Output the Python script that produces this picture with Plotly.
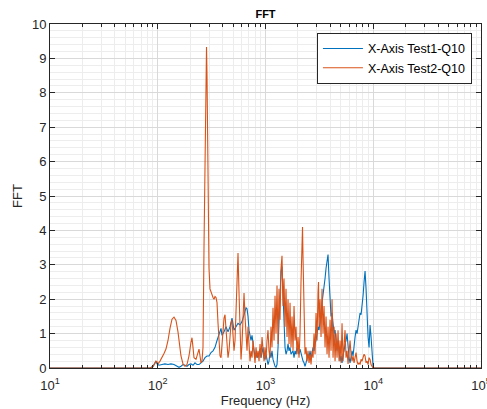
import plotly.graph_objects as go

# Frequency axis (Hz) and FFT magnitudes for the two X-axis test runs
freq_test1 = [10, 84.7, 90.3, 94.3, 96.3, 98.4, 102.7, 109.5, 116.7, 124.5, 132.7, 141.5, 150.9, 157.5,
              164.3, 171.5, 179, 186.8, 195, 203.5, 212.4, 221.7, 231.4, 241.5, 252, 263, 274.5, 286.5,
              299, 312.1, 325.8, 340, 354.8, 370.3, 386.5, 394.9, 412.1, 430.1, 448.9, 468.5, 488.9,
              510.3, 532.6, 555.8, 580.1, 605.4, 631.9, 659.5, 673.7, 688.3, 703.2, 718.4, 733.9, 749.8,
              766, 782.5, 799.4, 816.7, 834.4, 852.4, 870.8, 889.6, 908.8, 928.5, 948.5, 969, 989.9,
              1011, 1033, 1055, 1078, 1101, 1125, 1149, 1174, 1200, 1226, 1252, 1279, 1307, 1335, 1364,
              1393, 1423, 1454, 1485, 1518, 1550, 1584, 1618, 1653, 1689, 1725, 1763, 1801, 1840, 1879,
              1920, 1961, 2004, 2047, 2091, 2136, 2183, 2230, 2278, 2327, 2377, 2429, 2481, 2535, 2590,
              2646, 2703, 2761, 2821, 2882, 2944, 3008, 3073, 3139, 3207, 3276, 3347, 3419, 3493, 3569,
              3646, 3725, 3805, 3888, 3972, 4057, 4145, 4235, 4326, 4420, 4515, 4613, 4712, 4814, 4918,
              5025, 5133, 5244, 5358, 5473, 5592, 5713, 5836, 5962, 6091, 6223, 6357, 6495, 6635, 6778,
              6925, 7075, 7227, 7384, 7543, 7706, 7873, 8043, 8217, 8394, 8576, 8761, 8950, 9144, 9341,
              9543, 9749, 9960, 10100, 100000]
fft_test1 = [0, 0, 0.05, 0.18, 0.2, 0.12, 0.08, 0.1, 0.12, 0.1, 0.12, 0.1, 0.05, 0.02,
             0.05, 0.1, 0.08, 0.05, 0.1, 0.12, 0.08, 0.15, 0.1, 0.1, 0.15, 0.2, 0.3, 0.35,
             0.35, 0.45, 0.5, 0.6, 0.8, 1.0, 1.15, 0.95, 1.05, 1.2, 1.05, 1.2, 1.45,
             1.1, 1.2, 1.3, 1.25, 1.35, 1.55, 1.75, 1.72, 1.5, 1.1, 0.95, 0.8, 0.95,
             0.7, 0.4, 0.3, 0.45, 0.3, 0.35, 0.5, 0.55, 0.3, 0.45, 0.6, 0.3, 0.25,
             0.4, 0.2, 0.1, 0.2, 0.45, 0.3, 0.5, 0.25, 0.1, 0.05, 0.02, 0.1, 0.6, 1.2, 2.0,
             2.8, 2.95, 2.0, 1.2, 0.6, 0.4, 0.5, 0.7, 0.5, 0.6, 0.4, 0.45, 0.5, 0.3, 0.5,
             0.4, 0.6, 0.5, 0.4, 0.55, 0.4, 0.3, 0.2, 0.15, 0.05, 0.15, 0.3, 0.4, 0.3, 0.5,
             0.3, 0.4, 0.6, 0.5, 0.7, 0.8, 1.0, 1.2, 1.1, 1.5, 1.6, 1.9, 2.1, 2.4, 2.6,
             2.9, 3.1, 3.3, 2.6, 1.8, 1.5, 1.6, 1.2, 1.0, 1.1, 0.7, 0.5, 0.8, 0.4, 0.2,
             0.35, 0.15, 0.4, 0.5, 0.7, 0.8, 1.0, 0.6, 0.3, 0.15, 0.3, 0.5, 0.35, 0.7, 0.9,
             1.1, 1.0, 1.2, 1.4, 1.6, 1.55, 1.8, 2.1, 2.5, 2.82, 2.3, 1.5, 0.9, 0.6, 1.25,
             0.9, 0.4, 0.05, 0, 0]

freq_test2 = [10, 84.7, 90, 94.3, 96.3, 98.4, 100.5, 104.9, 109.5, 114.3, 119.2, 124.5, 129.9, 135.6,
              141.5, 147.7, 154.1, 160.9, 164.3, 171.5, 179, 186.8, 195, 203.5, 207.9, 212.4, 217,
              226.5, 236.4, 241.5, 246.7, 252, 257.5, 263, 268.7, 274.5, 280.5, 283.5, 286.5, 292.7,
              299, 305.5, 312.1, 318.9, 325.8, 332.8, 340, 347.3, 354.8, 362.5, 370.3, 378.3, 386.5,
              394.9, 403.4, 412.1, 421, 430.1, 439.4, 448.9, 458.6, 468.5, 478.6, 488.9, 499.5, 510.3,
              521.3, 532.6, 544.1, 555.8, 567.8, 580.1, 592.6, 605.4, 618.5, 631.9, 645.5, 659.5, 673.7,
              688.3, 703.2, 718.4, 733.9, 749.8, 766, 782.5, 799.4, 816.7, 834.4, 852.4, 870.8, 889.6,
              908.8, 928.5, 948.5, 969, 989.9, 1011, 1033, 1055, 1078, 1101, 1125, 1149, 1174, 1200,
              1226, 1252, 1279, 1307, 1335, 1364, 1393, 1423, 1454, 1485, 1518, 1550, 1584, 1618, 1653,
              1689, 1725, 1763, 1801, 1840, 1879, 1920, 1961, 2004, 2047, 2091, 2136, 2183, 2206, 2230,
              2278, 2327, 2377, 2429, 2481, 2535, 2590, 2646, 2703, 2761, 2821, 2882, 2944, 3008, 3073,
              3106, 3139, 3207, 3276, 3347, 3419, 3493, 3569, 3646, 3725, 3805, 3888, 3972, 4057, 4145,
              4235, 4326, 4420, 4515, 4613, 4712, 4814, 4918, 5025, 5133, 5244, 5358, 5473, 5592, 5713,
              5836, 5962, 6091, 6223, 6357, 6495, 6635, 6778, 6925, 7075, 7227, 7384, 7543, 7706, 7873,
              8043, 8217, 8394, 8576, 8761, 8950, 9144, 9341, 9543, 9749, 9960, 100000]
fft_test2 = [0, 0, 0.03, 0.15, 0.2, 0.18, 0.12, 0.2, 0.3, 0.42, 0.55, 0.8, 1.15, 1.42,
             1.48, 1.38, 1.05, 0.6, 0.35, 0.12, 0.05, 0.1, 0.35, 0.75, 0.88, 0.6, 0.3,
             0.25, 0.45, 0.55, 0.35, 0.15, 0.2, 0.6, 3.5, 6.5, 9.0, 9.33, 8.5, 5.5,
             2.9, 2.3, 2.2, 2.15, 2.05, 2.0, 2.08, 2.05, 1.9, 1.3, 0.7, 0.35, 0.3,
             0.8, 1.2, 1.45, 1.55, 1.1, 0.6, 0.3, 0.5, 1.0, 1.3, 1.4, 1.0, 0.5,
             0.8, 1.8, 2.9, 3.34, 2.2, 0.9, 0.25, 0.7, 1.6, 2.18, 1.5, 0.9, 0.5,
             1.2, 0.4, 0.2, 0.5, 0.3, 0.8, 0.4, 0.15, 0.6, 0.3, 0.5, 0.2, 0.7,
             0.3, 0.9, 0.4, 0.2, 0.6, 0.25, 0.8, 1.1, 0.5, 0.3, 1.2, 0.6, 1.75, 0.8,
             2.1, 1.0, 2.4, 0.7, 2.3, 1.4, 2.9, 3.26, 1.8, 2.6, 1.2, 2.3, 0.9, 2.0, 0.7,
             1.9, 0.6, 1.5, 0.5, 1.8, 0.8, 1.2, 0.4, 0.9, 0.3, 1.0, 2.5, 3.8, 4.1, 3.2,
             1.2, 0.4, 0.6, 0.2, 0.5, 0.15, 0.4, 0.1, 0.5, 0.3, 1.0, 0.4, 1.6, 0.8, 2.2,
             2.5, 1.2, 2.0, 0.9, 2.3, 1.0, 1.8, 0.6, 1.5, 0.4, 1.2, 0.3, 1.4, 0.5, 2.0,
             0.3, 1.2, 0.2, 1.0, 0.3, 1.1, 0.2, 0.8, 0.15, 1.3, 0.2, 0.7, 1.1, 0.3, 0.5,
             0.12, 0.4, 0.8, 0.4, 0.2, 0.35, 0.15, 0.3, 0.45, 0.2, 0.1, 0.15, 0.1, 0.25, 0.2,
             0.3, 0.4, 0.35, 0.15, 0.2, 0.1, 0.3, 0.25, 0.1, 0.05, 0.0, 0]

series_names = ["X-Axis Test1-Q10", "X-Axis Test2-Q10"]
series_colors = ["#0072BD", "#D95319"]

x_tick_vals = [10, 100, 1000, 10000, 100000]
x_tick_text = ["10<sup>1</sup>", "10<sup>2</sup>", "10<sup>3</sup>", "10<sup>4</sup>", "10<sup>5</sup>"]
y_tick_vals = list(range(0, 11))

fig = go.Figure()
for fx, fy, name, color in [(freq_test1, fft_test1, series_names[0], series_colors[0]),
                            (freq_test2, fft_test2, series_names[1], series_colors[1])]:
    fig.add_trace(go.Scatter(x=fx, y=fy, mode="lines", name=name,
                             line=dict(color=color, width=1.1)))

axis_color = "#262626"
font_family = "Liberation Sans, Arial, sans-serif"

fig.update_layout(
    width=487, height=409,
    margin=dict(l=50, r=6, t=24, b=41),
    paper_bgcolor="white", plot_bgcolor="white",
    font=dict(family=font_family, size=13, color=axis_color),
    title=dict(text="<b>FFT</b>", x=0.5, xref="paper", xanchor="center",
               y=1 - 14 / 409, yref="container", yanchor="middle",
               font=dict(size=11, color="black")),
    showlegend=True,
    legend=dict(x=0.979, y=0.974, xanchor="right", yanchor="top",
                bgcolor="white", bordercolor=axis_color, borderwidth=1,
                font=dict(size=12.5, color="black"), tracegroupgap=0,
                itemwidth=40),
)

fig.update_xaxes(
    type="log", range=[1, 5], automargin=False,
    tickvals=x_tick_vals, ticktext=x_tick_text,
    ticklabeloverflow="allow", ticklabelstandoff=5,
    ticks="inside", ticklen=5, tickcolor=axis_color, tickwidth=0.8,
    showline=True, linecolor=axis_color, linewidth=0.8, mirror="allticks",
    showgrid=True, gridcolor="#d9d9d9", gridwidth=0.6,
    minor=dict(dtick="D1", ticks="inside", ticklen=3, tickcolor=axis_color,
               showgrid=True, gridcolor="#ededed", gridwidth=0.6),
    zeroline=False,
    title=dict(text="Frequency (Hz)", standoff=4, font=dict(size=13)),
)
fig.update_yaxes(
    range=[0, 10], tickvals=y_tick_vals, automargin=False,
    ticks="inside", ticklen=5, tickcolor=axis_color, tickwidth=0.8,
    showline=True, linecolor=axis_color, linewidth=0.8, mirror="ticks",
    showgrid=True, gridcolor="#d9d9d9", gridwidth=0.6,
    minor=dict(dtick=0.2, ticks="", showgrid=True, gridcolor="#ededed", gridwidth=0.6),
    zeroline=False,
    title=dict(text="FFT", standoff=6, font=dict(size=13)),
)

fig.write_html("out.html")
